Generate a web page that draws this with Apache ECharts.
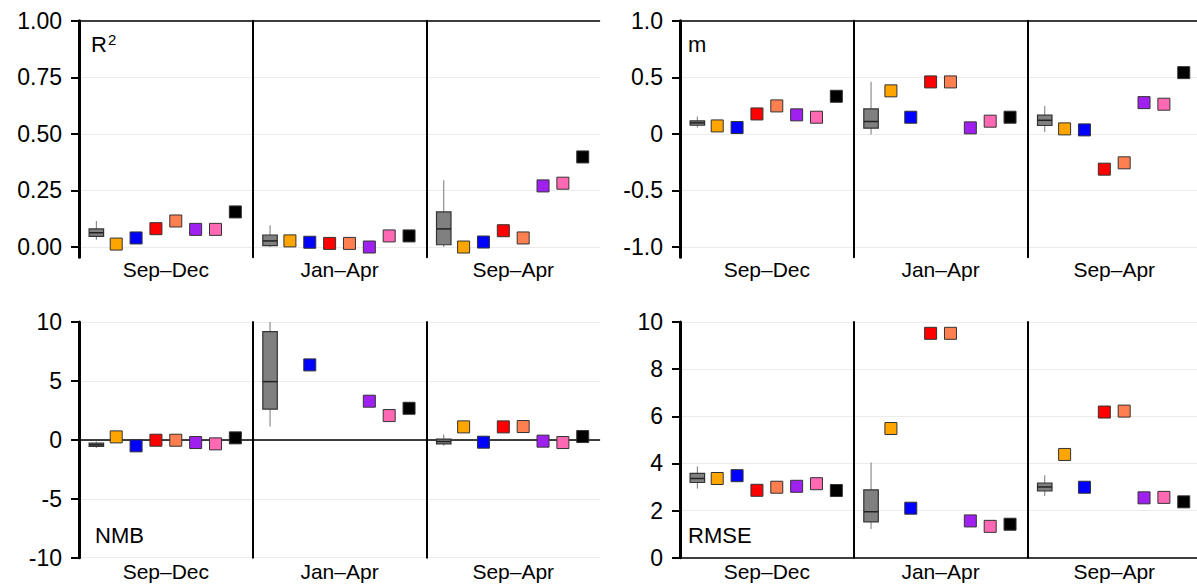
<!DOCTYPE html>
<html>
<head>
<meta charset="utf-8">
<script src="https://cdn.jsdelivr.net/npm/echarts@6/dist/echarts.min.js"></script>
<style>
  html, body { margin: 0; padding: 0; background: #fff; }
  #main { width: 1197px; height: 585px; }
</style>
</head>
<body>
<div id="main"></div>
<script>
// facets
const seasons = ['Sep–Dec', 'Jan–Apr', 'Sep–Apr'];

// box stats per season: [low whisker, q1, median, q3, high whisker]
const r2Box = [[0.032, 0.047, 0.063, 0.080, 0.115], [0.0, 0.006, 0.027, 0.053, 0.096], [0.0, 0.010, 0.080, 0.155, 0.295]];
const mBox = [[0.056, 0.076, 0.097, 0.115, 0.153], [-0.006, 0.05, 0.109, 0.22, 0.46], [0.015, 0.074, 0.12, 0.165, 0.247]];
const nmbBox = [[-0.68, -0.56, -0.42, -0.28, -0.15], [1.13, 2.6, 4.94, 9.18, 10.0], [-0.5, -0.34, -0.14, 0.06, 0.45]];
const rmseBox = [[2.93, 3.19, 3.36, 3.58, 3.87], [1.22, 1.52, 1.95, 2.88, 4.04], [2.62, 2.83, 3.0, 3.17, 3.5]];

// single-model values per season (7 models, same order in each)
const r2Points = [[0.013, 0.040, 0.081, 0.115, 0.078, 0.078, 0.155], [0.027, 0.021, 0.016, 0.016, 0.0, 0.049, 0.049], [0.0, 0.022, 0.072, 0.040, 0.270, 0.282, 0.398]];
const mPoints = [[0.07, 0.056, 0.176, 0.247, 0.168, 0.147, 0.332], [0.38, 0.147, 0.459, 0.459, 0.053, 0.112, 0.147], [0.044, 0.035, -0.312, -0.256, 0.276, 0.262, 0.541]];
const nmbPoints = [[0.25, -0.51, -0.03, -0.03, -0.23, -0.34, 0.17], [null, 6.36, null, null, 3.28, 2.06, 2.68], [1.10, -0.2, 1.1, 1.13, -0.11, -0.23, 0.28]];
const rmsePoints = [[3.36, 3.48, 2.86, 2.99, 3.03, 3.14, 2.85], [5.48, 2.10, 9.52, 9.52, 1.56, 1.33, 1.42], [4.38, 2.99, 6.18, 6.22, 2.54, 2.56, 2.37]];

// y tick labels
const r2Ticks = [0, 0.25, 0.5, 0.75, 1];
const mTicks = [-1, -0.5, 0, 0.5, 1];
const nmbTicks = [-10, -5, 0, 5, 10];
const rmseTicks = [0, 2, 4, 6, 8, 10];

const colors = ['#FFA500', '#0000FF', '#FF0000', '#FF7F50', '#A020F0', '#FF69B4', '#000000'];
const FONT = 'Liberation Sans, Arial, sans-serif';

// panel layout
const panels = [
  { label: 'R{s|2}', box: r2Box, pts: r2Points, ticks: r2Ticks, min: -0.045, max: 1, ref: 1,
    fmt: v => v.toFixed(2), x0: 79, top: 20.7, h: 236.5, nameGap: 2, lx: 91, ly: 44 },
  { label: 'm', box: mBox, pts: mPoints, ticks: mTicks, min: -1.09, max: 1, ref: 1,
    fmt: v => (v === 0 ? '0' : v.toFixed(1)), x0: 680, top: 20.7, h: 236.5, nameGap: 2, lx: 688, ly: 45 },
  { label: 'NMB', box: nmbBox, pts: nmbPoints, ticks: nmbTicks, min: -10, max: 10, ref: 0,
    fmt: v => String(v), x0: 79, top: 322, h: 235.7, nameGap: 3, lx: 95, ly: 536 },
  { label: 'RMSE', box: rmseBox, pts: rmsePoints, ticks: rmseTicks, min: 0, max: 10, ref: 0,
    fmt: v => String(v), x0: 680, top: 322, h: 235.7, nameGap: 3, lx: 688, ly: 536 }
];
const FW = 173.7; // facet width

const grid = [], xAxis = [], yAxis = [], series = [], graphic = [];

panels.forEach(function (p) {
  graphic.push({
    type: 'text', left: p.lx, top: p.ly - 12, silent: true,
    style: {
      text: p.label, fontSize: 22, fontFamily: FONT, fill: '#000',
      rich: { s: { fontSize: 15, fontFamily: FONT, fill: '#000', verticalAlign: 'top', padding: [0, 0, 10, 1] } }
    }
  });
  seasons.forEach(function (s, f) {
    const gi = grid.length;
    grid.push({ left: p.x0 + f * FW, top: p.top, width: FW, height: p.h,
      containLabel: false, outerBoundsMode: 'none' });
    xAxis.push({
      gridIndex: gi, type: 'value', min: -0.874, max: 7.874,
      axisLine: { show: false, onZero: false }, axisTick: { show: false }, axisLabel: { show: false },
      splitLine: { show: false },
      name: s, nameLocation: 'middle', nameGap: p.nameGap,
      nameTextStyle: { fontSize: 21, color: '#000', fontFamily: FONT, verticalAlign: 'top' }
    });
    yAxis.push({
      gridIndex: gi, type: 'value', min: p.min, max: p.max,
      axisLine: { show: true, onZero: false, lineStyle: { color: '#000', width: f === 0 ? 3 : 2 } },
      axisTick: { show: f === 0, length: 8, customValues: p.ticks, lineStyle: { color: '#000', width: 2 } },
      axisLabel: { show: f === 0, customValues: p.ticks, formatter: p.fmt, fontSize: 23,
        color: '#000', fontFamily: FONT, margin: 17 },
      splitLine: { show: true, lineStyle: { color: '#EBEBEB', width: 1 } }
    });
    // box plot of the ensemble spread
    series.push({
      type: 'custom', xAxisIndex: gi, yAxisIndex: gi, z: 3,
      data: [[0].concat(p.box[f])],
      encode: { x: 0, y: [1, 2, 3, 4, 5] },
      renderItem: function (params, api) {
        const x = api.value(0);
        const lo = api.coord([x, api.value(1)]);
        const q1 = api.coord([x, api.value(2)]);
        const md = api.coord([x, api.value(3)]);
        const q3 = api.coord([x, api.value(4)]);
        const hi = api.coord([x, api.value(5)]);
        const hw = api.size([0.73, 0])[0] / 2;
        const whisk = { stroke: '#777', lineWidth: 1 };
        return {
          type: 'group',
          children: [
            { type: 'line', shape: { x1: hi[0], y1: hi[1], x2: q3[0], y2: q3[1] }, style: whisk },
            { type: 'line', shape: { x1: q1[0], y1: q1[1], x2: lo[0], y2: lo[1] }, style: whisk },
            { type: 'rect', shape: { x: q3[0] - hw, y: q3[1], width: hw * 2, height: q1[1] - q3[1] },
              style: { fill: '#808080', stroke: '#333', lineWidth: 1.2 } },
            { type: 'line', shape: { x1: md[0] - hw, y1: md[1], x2: md[0] + hw, y2: md[1] },
              style: { stroke: '#222', lineWidth: 1.5 } }
          ]
        };
      }
    });
    // single models
    const data = [];
    p.pts[f].forEach(function (v, i) { if (v !== null) data.push([i + 1, v]); });
    series.push({
      type: 'scatter', xAxisIndex: gi, yAxisIndex: gi, z: 3, clip: false,
      symbol: 'rect', symbolSize: 12, data: data,
      itemStyle: {
        color: function (d) { return colors[d.value[0] - 1]; },
        borderColor: '#333', borderWidth: 1, opacity: 1
      },
      markLine: {
        silent: true, z: 1, symbol: 'none', animation: false,
        label: { show: false },
        lineStyle: { color: '#000', width: 1.6, type: 'solid' },
        data: [{ yAxis: p.ref }]
      }
    });
  });
});

const chart = echarts.init(document.getElementById('main'), null, { renderer: 'svg' });
chart.setOption({
  animation: false,
  backgroundColor: '#fff',
  grid: grid, xAxis: xAxis, yAxis: yAxis, series: series, graphic: graphic
});
</script>
</body>
</html>
